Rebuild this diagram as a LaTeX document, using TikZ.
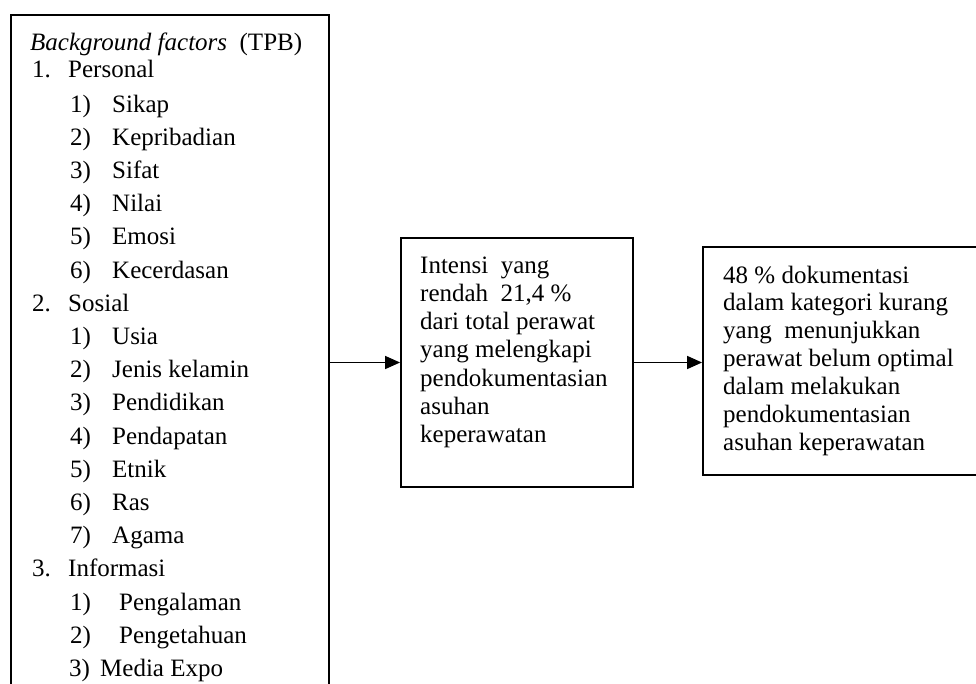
\documentclass[tikz,border=0pt]{standalone}
\usepackage{fontspec}
\setmainfont{Liberation Serif}
\usetikzlibrary{arrows.meta,calc}
\tikzset{
  boxx/.style={draw, line width=1.9pt, inner sep=0pt},
  txt/.style={anchor=base west, inner sep=0pt, font=\fontsize{25}{30}\selectfont},
  conn/.style={line width=1.6pt, -{Triangle[length=15pt,width=13pt]}},
}
\begin{document}
\begin{tikzpicture}[x=1pt,y=-1pt]
\useasboundingbox (0,0) rectangle (976,683);
\clip (0,0) rectangle (976,683);
\fill[white] (0,0) rectangle (976,683);
% boxes
\node[boxx, minimum width=318pt, minimum height=705pt] (lbox) at (170,367.5) {};
\node[boxx, minimum width=232pt, minimum height=249pt] (mbox) at (517,362.5) {};
\node[boxx, minimum width=282pt, minimum height=228pt] (rbox) at (844,361) {};
% left box text
\node[txt] (title) at (30,50) {\textit{Background factors}~ (TPB)};
\node[txt] (n1) at (32,77) {1.};
\node[txt] (h1) at (68,77) {Personal};
\foreach \num/\lab [count=\k from 0] in {1)/Sikap,2)/Kepribadian,3)/Sifat,4)/Nilai,5)/Emosi,6)/Kecerdasan}{
  \node[txt] (pa\k) at (70,{112+\k*33.2}) {\num};
  \node[txt] (pb\k) at (112,{112+\k*33.2}) {\lab};
}
\node[txt] (n2) at (32,{112+6*33.2}) {2.};
\node[txt] (h2) at (68,{112+6*33.2}) {Sosial};
\foreach \num/\lab [count=\k from 7] in {1)/Usia,2)/Jenis kelamin,3)/Pendidikan,4)/Pendapatan,5)/Etnik,6)/Ras,7)/Agama}{
  \node[txt] (sa\k) at (70,{112+\k*33.2}) {\num};
  \node[txt] (sb\k) at (112,{112+\k*33.2}) {\lab};
}
\node[txt] (n3) at (32,{112+14*33.2}) {3.};
\node[txt] (h3) at (68,{112+14*33.2}) {Informasi};
\node[txt] (ia15) at (70,{112+15*33.2}) {1)};
\node[txt] (ib15) at (119,{112+15*33.2}) {Pengalaman};
\node[txt] (ia16) at (70,{112+16*33.2}) {2)};
\node[txt] (ib16) at (119,{112+16*33.2}) {Pengetahuan};
\node[txt] (ia17) at (69,{112+17*33.2}) {3)};
\node[txt] (ib17) at (100,{112+17*33.2}) {Media Expo};
% middle box text
\foreach \t [count=\i from 0] in {{Intensi~ yang},{rendah~ 21,4 \%},{dari total perawat},{yang melengkapi},{pendokumentasian},{asuhan},{keperawatan}}{
  \node[txt] (m\i) at (420,{273+\i*28.3}) {\t};
}
% right box text
\foreach \t [count=\i from 0] in {{48 \% dokumentasi},{dalam kategori kurang},{yang~ menunjukkan},{perawat belum optimal},{dalam melakukan},{pendokumentasian},{asuhan keperawatan}}{
  \node[txt] (r\i) at (723,{283+\i*27.9}) {\t};
}
% connectors
\draw[conn] (lbox.east |- mbox.west) -- (mbox.west);
\draw[conn] (mbox.east) -- (mbox.east -| rbox.west);
\end{tikzpicture}
\end{document}
